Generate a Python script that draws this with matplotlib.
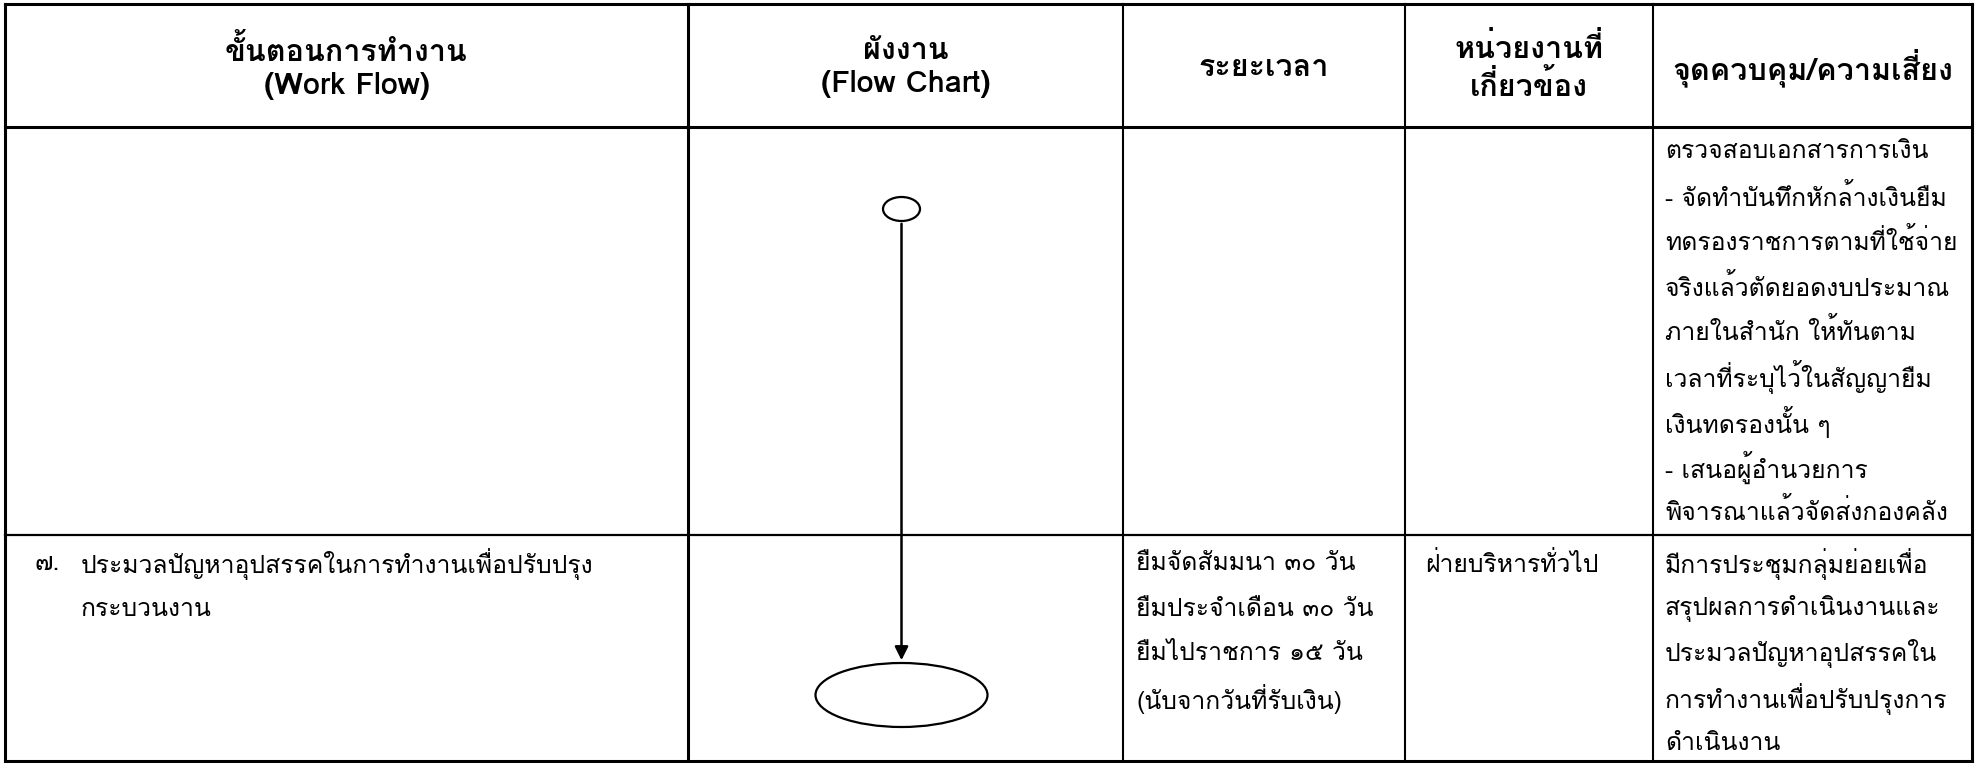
import matplotlib
matplotlib.use('Agg')
import matplotlib.pyplot as plt
from matplotlib import font_manager
from matplotlib.patches import Ellipse


# table text
headers = ['ขั้นตอนการทำงาน\n(Work Flow)', 'ผังงาน\n(Flow Chart)', 'ระยะเวลา',
           'หน่วยงานที่\nเกี่ยวข้อง', 'จุดควบคุม/ความเสี่ยง']
row1_control = ['ตรวจสอบเอกสารการเงิน',
                '- จัดทำบันทึกหักล้างเงินยืม',
                'ทดรองราชการตามที่ใช้จ่าย',
                'จริงแล้วตัดยอดงบประมาณ',
                'ภายในสำนัก ให้ทันตาม',
                'เวลาที่ระบุไว้ในสัญญายืม',
                'เงินทดรองนั้น ๆ',
                '- เสนอผู้อำนวยการ',
                'พิจารณาแล้วจัดส่งกองคลัง']
step_no = '๗.'
step_text = ['ประมวลปัญหาอุปสรรคในการทำงานเพื่อปรับปรุง', 'กระบวนงาน']
row2_time = ['ยืมจัดสัมมนา ๓๐ วัน', 'ยืมประจำเดือน ๓๐ วัน', 'ยืมไปราชการ ๑๕ วัน', '(นับจากวันที่รับเงิน)']
row2_unit = ['ฝ่ายบริหารทั่วไป']
row2_control = ['มีการประชุมกลุ่มย่อยเพื่อ', 'สรุปผลการดำเนินงานและ', 'ประมวลปัญหาอุปสรรคใน',
                'การทำงานเพื่อปรับปรุงการ', 'ดำเนินงาน']

# Loma stacks tone marks over upper vowels without shaping, so prefer it
installed = {f.name for f in font_manager.fontManager.ttflist}
thai_face = [n for n in ['Loma', 'Noto Sans Thai Looped', 'Sarabun'] if n in installed][:1]
plt.rcParams['font.family'] = thai_face + ['DejaVu Sans']

# layout in pixels of the 1979x763 page
col_x = [5, 688, 1123, 1405, 1653, 1972]
row_y = [4, 127, 535, 761]
line_gap = 45

fig = plt.figure(figsize=(19.79, 7.63), dpi=100)
ax = fig.add_axes([0, 0, 1, 1])
ax.set_xlim(0, 1979)
ax.set_ylim(763, 0)
ax.axis('off')


def fit_size(s, target_px, weight='normal'):
    t = ax.text(0, 0, s, fontsize=10, fontweight=weight)
    w = t.get_window_extent(renderer=fig.canvas.get_renderer()).width
    t.remove()
    return 10 * target_px / w


body_size = fit_size('ตรวจสอบเอกสารการเงิน', 263)
head_size = fit_size('จุดควบคุม/ความเสี่ยง', 280, 'bold')

# grid lines
for i, x in enumerate(col_x):
    lw = 2.2 if i in (0, 1, 5) else 1.5
    ax.plot([x, x], [row_y[0], row_y[-1]], color='black', lw=lw, solid_capstyle='projecting')
for i, y in enumerate(row_y):
    lw = 2.2 if i in (0, 1, 3) else 1.6
    ax.plot([col_x[0], col_x[-1]], [y, y], color='black', lw=lw, solid_capstyle='projecting')

# header
for i, h in enumerate(headers):
    cx = (col_x[i] + col_x[i + 1]) / 2
    ax.text(cx, (row_y[0] + row_y[1]) / 2 + 2, h, ha='center', va='center', fontsize=head_size,
            fontweight='bold', linespacing=1.2)

# row 1 control text
y0 = row_y[1] + 25
for k, s in enumerate(row1_control):
    ax.text(col_x[4] + 12, y0 + k * line_gap, s, ha='left', va='center', fontsize=body_size)

# row 2
y1 = row_y[2] + 29
ax.text(col_x[0] + 30, y1, step_no, ha='left', va='center', fontsize=body_size)
for k, s in enumerate(step_text):
    ax.text(col_x[0] + 76, y1 + k * line_gap, s, ha='left', va='center', fontsize=body_size)
for k, s in enumerate(row2_time):
    ax.text(col_x[2] + 13, y1 + k * line_gap, s, ha='left', va='center', fontsize=body_size)
for k, s in enumerate(row2_unit):
    ax.text(col_x[3] + 20, y1 + k * line_gap, s, ha='left', va='center', fontsize=body_size)
for k, s in enumerate(row2_control):
    ax.text(col_x[4] + 12, y1 + k * line_gap, s, ha='left', va='center', fontsize=body_size)

# flow chart: start circle, arrow, end ellipse
fx = (col_x[1] + col_x[2]) / 2 - 4
ax.add_patch(Ellipse((fx, 209), 37, 24, fill=False, edgecolor='black', lw=1.6))
ax.add_patch(Ellipse((fx, 695), 172, 64, fill=False, edgecolor='black', lw=1.6))
ax.annotate('', xy=(fx, 695 - 32), xytext=(fx, 209 + 12),
            arrowprops=dict(arrowstyle='-|>', color='black', lw=1.8, mutation_scale=20))

fig.savefig('out.png', dpi=100)
